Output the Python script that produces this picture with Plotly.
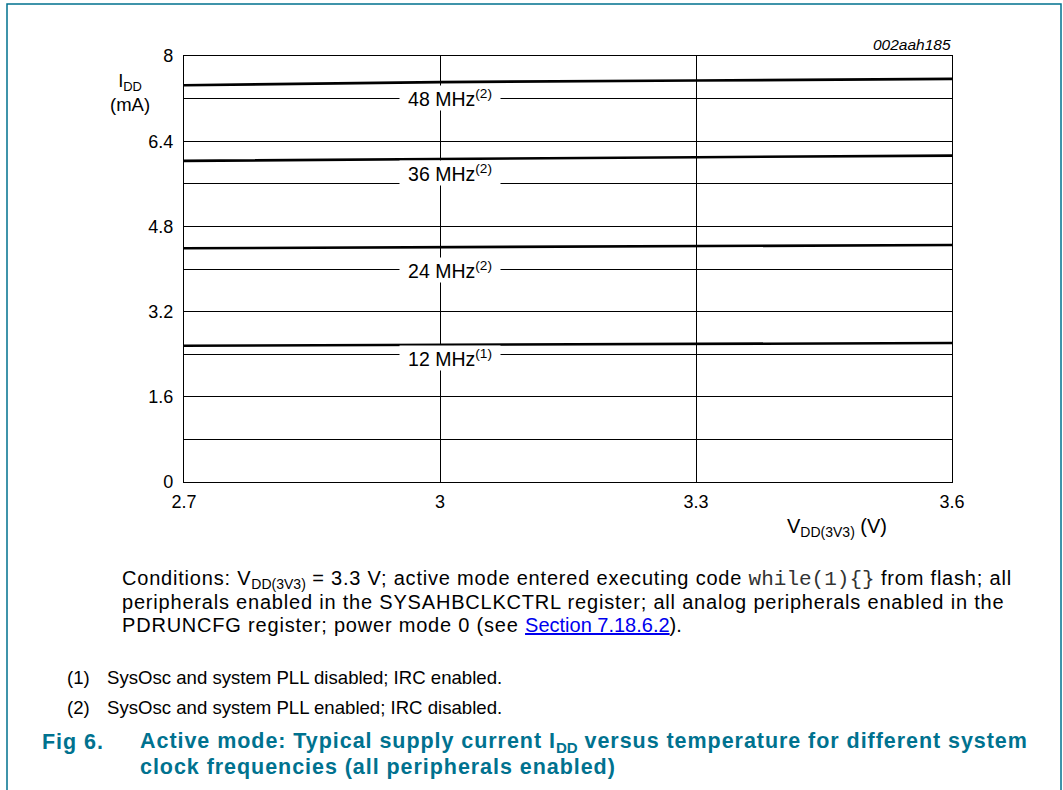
import plotly.graph_objects as go

# Supply voltage (V) and typical active-mode supply current (mA) per clock frequency
voltage = [2.7, 3.0, 3.3, 3.6]
idd_12mhz = [2.56, 2.58, 2.60, 2.61]
idd_24mhz = [4.39, 4.41, 4.43, 4.45]
idd_36mhz = [6.03, 6.07, 6.10, 6.13]
idd_48mhz = [7.45, 7.51, 7.54, 7.57]

curve_labels = ["12 MHz<sup>(1)</sup>", "24 MHz<sup>(2)</sup>",
                "36 MHz<sup>(2)</sup>", "48 MHz<sup>(2)</sup>"]
label_y = [2.33, 3.98, 5.80, 7.22]

y_grid = [0, 0.8, 1.6, 2.4, 3.2, 4.0, 4.8, 5.6, 6.4, 7.2, 8.0]
y_tick_text = ["0", "", "1.6", "", "3.2", "", "4.8", "", "6.4", "", "8"]
x_ticks = [2.7, 3.0, 3.3, 3.6]
x_tick_text = ["2.7", "3", "3.3", "3.6"]

W, H = 1063, 790
L, R, T, B = 184, 952, 56, 482
FONT = "Liberation Sans, Arial, sans-serif"
MONO = "'Liberation Mono', 'DejaVu Sans Mono', monospace"
TEAL = "#00728f"


def px(x):
    return (x - L) / (R - L)


def py(y):
    return (B - y) / (B - T)


def spaced(text, spacing):
    return f'<span style="letter-spacing:{spacing}px">{text}</span>'


def note(x, y, text, size, color="black", xanchor="left"):
    return dict(x=px(x), y=py(y), xref="paper", yref="paper",
                xanchor=xanchor, yanchor="middle", text=text,
                showarrow=False, align="left",
                font=dict(family=FONT, size=size, color=color))


fig = go.Figure()
for series in (idd_12mhz, idd_24mhz, idd_36mhz, idd_48mhz):
    fig.add_trace(go.Scatter(x=voltage, y=series, mode="lines",
                             line=dict(color="black", width=2.6),
                             showlegend=False, hoverinfo="skip"))

annotations = []
# curve labels on white boxes over the grid
for text, yv in zip(curve_labels, label_y):
    annotations.append(dict(x=3.0115, y=yv, xref="x", yref="y", text=text,
                            xanchor="center", yanchor="middle",
                            showarrow=False, bgcolor="white", width=98, height=22,
                            font=dict(family=FONT, size=19.5, color="black")))

# axis titles and drawing id
ytitle = note(130, 92, "I<sub>DD</sub><br>(mA)", 18.5, xanchor="center")
ytitle["align"] = "center"
annotations += [
    ytitle,
    note(785, 527, "V<sub>DD(3V3)</sub> (V)", 20),
    note(953, 45, "<i>002aah185</i>", 15.5, xanchor="right"),
]

# figure notes
CAP_SP = 0.8
mono = ('<span style="font-family:' + MONO + ';font-size:21px;color:#333">'
        'while(1){}</span>')
link = '<span style="color:#0000ee;text-decoration:underline">Section 7.18.6.2</span>'
caption = [
    spaced("Conditions: V", CAP_SP) + "<sub>DD(3V3)</sub>"
    + spaced(" = 3.3 V; active mode entered executing code ", CAP_SP)
    + mono + spaced(" from flash; all", CAP_SP),
    spaced("peripherals enabled in the SYSAHBCLKCTRL register; all analog peripherals enabled in the", CAP_SP),
    spaced("PDRUNCFG register; power mode 0 (see ", CAP_SP) + link + ").",
]
for line, yc in zip(caption, [579, 602, 625]):
    annotations.append(note(120, yc, line, 20))

notes = [("(1)", "SysOsc and system PLL disabled; IRC enabled."),
         ("(2)", "SysOsc and system PLL enabled; IRC disabled.")]
for (num, txt), yc in zip(notes, [677, 707]):
    annotations.append(note(65, yc, num, 18.6))
    annotations.append(note(105, yc, txt, 18.6))

TTL_SP = 0.95
title_lines = [spaced("Active mode: Typical supply current I", TTL_SP) + "<sub>DD</sub>"
               + spaced(" versus temperature for different system", TTL_SP),
               spaced("clock frequencies (all peripherals enabled)", TTL_SP)]
annotations.append(note(40, 742, "<b>" + spaced("Fig 6.", TTL_SP) + "</b>", 21.5, color=TEAL))
for line, yc in zip(title_lines, [742, 767]):
    annotations.append(note(138, yc, "<b>" + line + "</b>", 21.5, color=TEAL))

# page frame
shapes = [dict(type="path", xref="paper", yref="paper",
               path=f"M {px(7)},{py(800)} L {px(7)},{py(4)} L {px(1061)},{py(4)} L {px(1061)},{py(800)}",
               line=dict(color=TEAL, width=1.5))]

fig.update_layout(
    width=W, height=H,
    margin=dict(l=L, r=W - R, t=T, b=H - B, pad=0),
    paper_bgcolor="white", plot_bgcolor="white",
    annotations=annotations, shapes=shapes,
    font=dict(family=FONT, size=18, color="black"),
)
fig.update_xaxes(range=[2.7, 3.6], tickvals=x_ticks, ticktext=x_tick_text,
                 showgrid=True, gridcolor="black", gridwidth=1,
                 showline=True, linecolor="black", linewidth=1.2, mirror=True,
                 ticks="", ticklabelstandoff=3, zeroline=False,
                 tickfont=dict(family=FONT, size=18, color="black"))
fig.update_yaxes(range=[0, 8], tickvals=y_grid, ticktext=y_tick_text,
                 showgrid=True, gridcolor="black", gridwidth=1,
                 showline=True, linecolor="black", linewidth=1.2, mirror=True,
                 ticks="", ticklabelstandoff=6, zeroline=False,
                 tickfont=dict(family=FONT, size=18, color="black"))

fig.write_html("out.html")
